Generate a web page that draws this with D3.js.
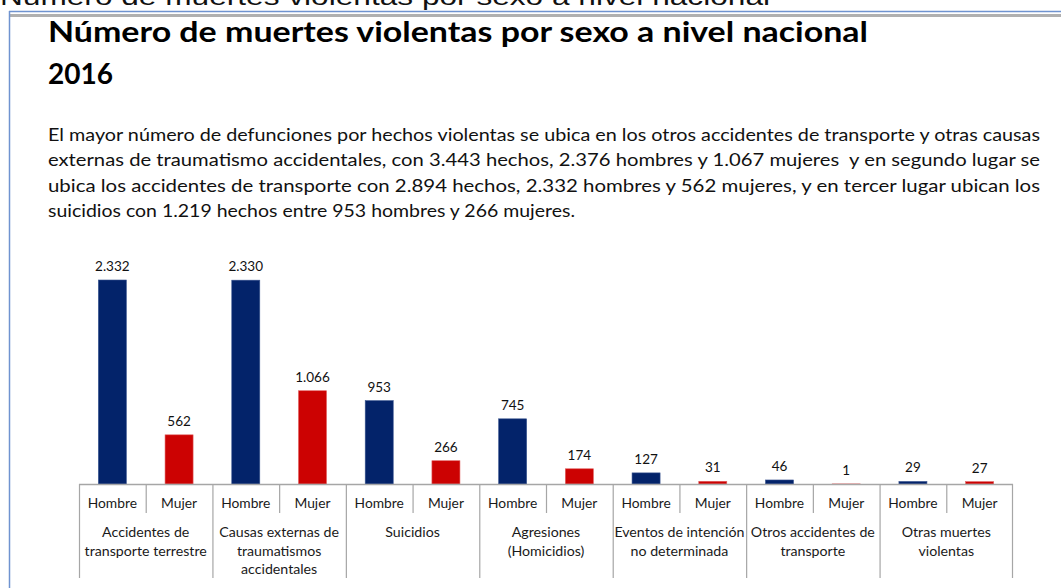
<!DOCTYPE html>
<html>
<head>
<meta charset="utf-8">
<script src="https://cdn.jsdelivr.net/npm/d3@7"></script>
<style>
  body { margin: 0; background: #fff; }
  text { font-family: Lato, "Open Sans", sans-serif; }
</style>
</head>
<body>
<div id="chart"></div>
<script>
// Data
const categories = [
  ['Accidentes de', 'transporte terrestre'],
  ['Causas externas de', 'traumatismos', 'accidentales'],
  ['Suicidios'],
  ['Agresiones', '(Homicidios)'],
  ['Eventos de intención', 'no determinada'],
  ['Otros accidentes de', 'transporte'],
  ['Otras muertes', 'violentas']
];
const sexes = ['Hombre', 'Mujer'];
const hombre = [2332, 2330, 953, 745, 127, 46, 29];
const mujer = [562, 1066, 266, 174, 31, 1, 27];

const pageHeading = 'Número de muertes violentas por sexo a nivel nacional';
const titleLines = ['Número de muertes violentas por sexo a nivel nacional', '2016'];
const paragraph = [
  'El mayor número de defunciones por hechos violentas se ubica en los otros accidentes de transporte y otras causas',
  'externas de traumatismo accidentales, con 3.443 hechos, 2.376 hombres y 1.067 mujeres  y en segundo lugar se',
  'ubica los accidentes de transporte con 2.894 hechos, 2.332 hombres y 562 mujeres, y en tercer lugar ubican los',
  'suicidios con 1.219 hechos entre 953 hombres y 266 mujeres.'
];

const width = 1061;
const height = 588;
const colors = { Hombre: '#03236a', Mujer: '#cc0202' };

const locale = d3.formatLocale({ decimal: ',', thousands: '.', grouping: [3], currency: ['', ''] });
const fmt = locale.format(',d');

const svg = d3.select('#chart')
  .append('svg')
  .attr('width', width)
  .attr('height', height);

// Heading cut off at the top of the screenshot
svg.append('text')
  .attr('x', 0)
  .attr('y', 5)
  .attr('textLength', 770)
  .attr('lengthAdjust', 'spacingAndGlyphs')
  .style('font-family', '"Liberation Sans", Arial, sans-serif')
  .style('font-size', '24px')
  .attr('fill', '#111')
  .text(pageHeading);

// Slide frame
svg.append('line')
  .attr('x1', 9).attr('x2', width).attr('y1', 11.5).attr('y2', 11.5)
  .attr('stroke', '#6f93d0').attr('stroke-width', 1.5);
svg.append('rect')
  .attr('x', 10).attr('y', 14).attr('width', width - 10).attr('height', 3)
  .attr('fill', '#b0b0b0');
svg.append('line')
  .attr('x1', 9.5).attr('x2', 9.5).attr('y1', 11).attr('y2', height)
  .attr('stroke', '#6f93d0').attr('stroke-width', 1.5);

// Title
svg.selectAll('.title')
  .data(titleLines)
  .enter().append('text')
  .attr('class', 'title')
  .attr('x', 48)
  .attr('y', (d, i) => 42 + i * 42)
  .attr('textLength', (d, i) => i === 0 ? 820 : null)
  .attr('lengthAdjust', 'spacingAndGlyphs')
  .style('font-size', '28px')
  .style('font-weight', 'bold')
  .attr('fill', '#000')
  .text(d => d);

// Paragraph (justified lines)
svg.selectAll('.para')
  .data(paragraph)
  .enter().append('text')
  .attr('class', 'para')
  .attr('x', 48)
  .attr('y', (d, i) => 141 + i * 25.4)
  .attr('textLength', (d, i) => i < paragraph.length - 1 ? 992 : 527)
  .attr('lengthAdjust', 'spacingAndGlyphs')
  .style('font-size', '17.5px')
  .style('white-space', 'pre')
  .attr('fill', '#111')
  .text(d => d);

// Chart
const left = 79, right = 1013, baseY = 484, topY = 280;

const x0 = d3.scaleBand()
  .domain(d3.range(categories.length))
  .range([left, right])
  .padding(0);

const x1 = d3.scaleBand()
  .domain(sexes)
  .range([0, x0.bandwidth()])
  .paddingInner(0.58)
  .paddingOuter(0.29);

const y = d3.scaleLinear()
  .domain([0, d3.max(hombre.concat(mujer))])
  .range([baseY, topY]);

const rows = categories.map((c, i) => ({ i, values: [
  { sex: 'Hombre', value: hombre[i] },
  { sex: 'Mujer', value: mujer[i] }
] }));

const groups = svg.selectAll('.group')
  .data(rows)
  .enter().append('g')
  .attr('class', 'group')
  .attr('transform', d => `translate(${x0(d.i)},0)`);

groups.selectAll('rect')
  .data(d => d.values)
  .enter().append('rect')
  .attr('x', d => x1(d.sex))
  .attr('y', d => y(d.value))
  .attr('width', x1.bandwidth())
  .attr('height', d => baseY - y(d.value))
  .attr('fill', d => colors[d.sex])
  .attr('stroke', d => d.sex === 'Hombre' ? '#3a5590' : '#e06060')
  .attr('stroke-width', 0.6);

groups.selectAll('.val')
  .data(d => d.values)
  .enter().append('text')
  .attr('class', 'val')
  .attr('x', d => x1(d.sex) + x1.bandwidth() / 2)
  .attr('y', d => y(d.value) - 9)
  .attr('text-anchor', 'middle')
  .style('font-size', '13.5px')
  .attr('fill', '#111')
  .text(d => fmt(d.value));

// Category table
const grid = '#a6a6a6';
svg.append('line')
  .attr('x1', left).attr('x2', right).attr('y1', baseY + 0.5).attr('y2', baseY + 0.5)
  .attr('stroke', grid).attr('stroke-width', 1.3);

svg.selectAll('.gdiv')
  .data(d3.range(categories.length + 1))
  .enter().append('line')
  .attr('class', 'gdiv')
  .attr('x1', i => i < categories.length ? x0(i) + 0.5 : right - 0.5)
  .attr('x2', i => i < categories.length ? x0(i) + 0.5 : right - 0.5)
  .attr('y1', baseY)
  .attr('y2', 578)
  .attr('stroke', grid).attr('stroke-width', 1.2);

groups.append('line')
  .attr('x1', x0.bandwidth() / 2 + 0.5)
  .attr('x2', x0.bandwidth() / 2 + 0.5)
  .attr('y1', baseY)
  .attr('y2', 513)
  .attr('stroke', grid).attr('stroke-width', 1.2);

groups.selectAll('.sex')
  .data(sexes)
  .enter().append('text')
  .attr('class', 'sex')
  .attr('x', (d, j) => x0.bandwidth() / 4 + j * x0.bandwidth() / 2)
  .attr('y', 508)
  .attr('text-anchor', 'middle')
  .style('font-size', '13.8px')
  .attr('fill', '#1a1a1a')
  .text(d => d);

groups.selectAll('.cat')
  .data(d => categories[d.i])
  .enter().append('text')
  .attr('class', 'cat')
  .attr('x', x0.bandwidth() / 2)
  .attr('y', (d, k) => 537 + k * 18.5)
  .attr('text-anchor', 'middle')
  .style('font-size', '14.2px')
  .attr('fill', '#1a1a1a')
  .text(d => d);
</script>
</body>
</html>
